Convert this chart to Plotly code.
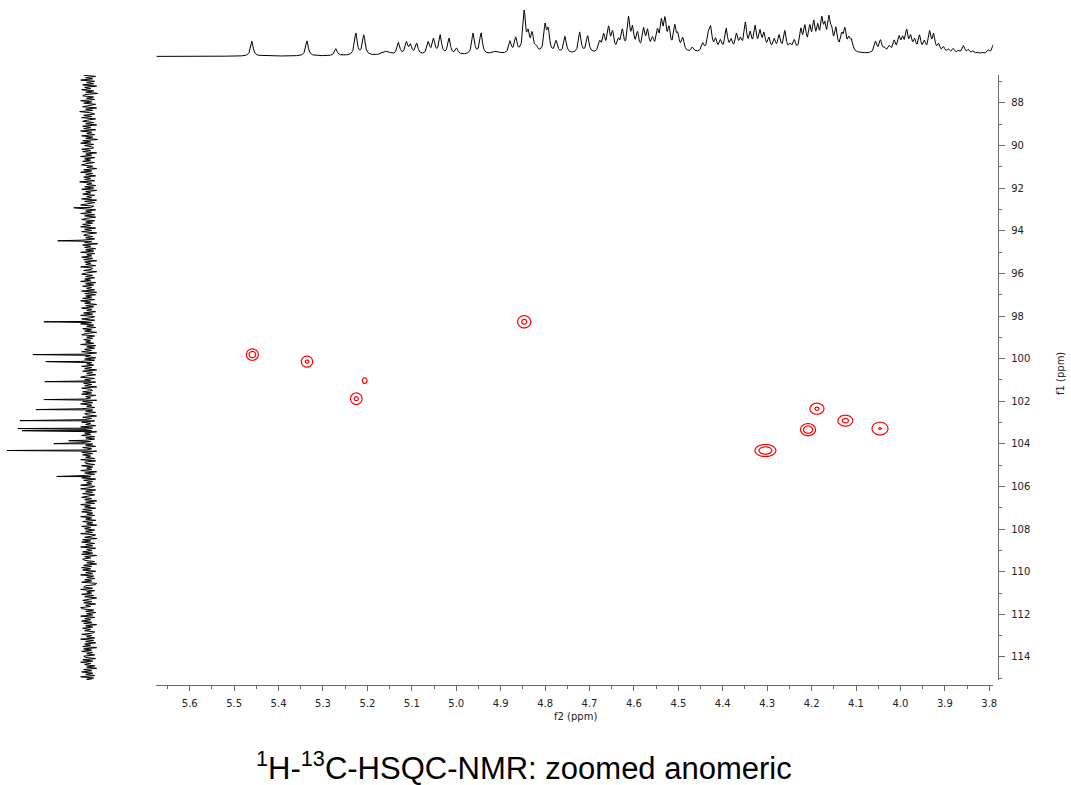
import numpy as np
import plotly.graph_objects as go

W, H = 1071, 785

# ---------------- 1H projection (top): peak list ----------------
h1_ppm = [5.460, 5.336, 5.271, 5.226, 5.208, 5.157, 5.130, 5.112, 5.103, 5.089,
          5.063, 5.051, 5.036, 5.016, 4.999, 4.962, 4.944, 4.910, 4.879, 4.866,
          4.847, 4.838, 4.829, 4.820, 4.800, 4.793, 4.775, 4.755, 4.722, 4.704,
          4.677, 4.668, 4.657, 4.648, 4.635, 4.626, 4.612, 4.603, 4.592, 4.578,
          4.569, 4.558, 4.547, 4.538, 4.530, 4.521, 4.508, 4.501, 4.490, 4.468,
          4.445, 4.432, 4.427, 4.416, 4.405, 4.392, 4.381, 4.369, 4.360, 4.349,
          4.338, 4.327, 4.316, 4.307, 4.296, 4.284, 4.273, 4.260, 4.248, 4.239,
          4.224, 4.215, 4.204, 4.195, 4.186, 4.177, 4.170, 4.161, 4.155, 4.145,
          4.132, 4.125, 4.116, 4.110, 4.056, 4.045, 4.036, 4.025, 4.014, 4.003,
          3.995, 3.986, 3.977, 3.968, 3.957, 3.946, 3.934, 3.925, 3.914, 3.903,
          3.892, 3.881, 3.869, 3.858, 3.847, 3.836, 3.825, 3.814, 3.802, 3.791,
          4.350]
h1_height = [15, 15, 7, 22, 20, 4, 12, 12, 9, 11,
             12, 15, 19, 16, 6, 21, 21, 3, 12, 15,
             41, 17, 18, 5, 26, 21, 12, 17, 21, 17,
             10, 16, 23, 18, 10, 20, 32, 21, 17, 21,
             19, 11, 18, 26, 28, 20, 23, 14, 13, 5,
             8, 16, 20, 11, 10, 22, 10, 16, 10, 27,
             16, 23, 18, 16, 12, 11, 15, 20, 6, 10,
             20, 22, 21, 25, 20, 27, 20, 28, 16, 21,
             14, 20, 11, 10, 11, 12, 4, 6, 11, 14,
             12, 20, 14, 11, 16, 10, 20, 17, 8, 6,
             4, 5, 3, 8, 4, 3, 2, 2, 4, 10,
             3.5]
h1_hwhm = [0.0035] * 110 + [0.6]
h1_hwhm[5] = 0.010
h1_hwhm[17] = 0.010

# ---------------- 13C projection (left) ----------------
c13_ppm = [92.92, 94.47, 98.27, 99.81, 100.14, 101.08, 101.92, 102.39, 102.91,
           103.28, 103.38, 103.85, 103.99, 104.31, 105.53]
c13_height = [15, 31, 45, 56, 43, 44, 45, 53, 69, 71, 67, 20, 35, 82, 32]
c13_noise = [int(v) for v in """
5 -7 3 -4 8 -6 2 -5 6 -8 4 -2 7 -5 3 -9 4 6 -5 2
-6 8 -3 5 -7 2 6 -8 3 -4 9 -2 -6 5 -3 7 -7 1 6 -5
3 -8 6 -2 5 -7 8 -3 2 -6 7 -4 3 -9 6 -2 8 -5 4 -3
-5 7 -2 6 -8 3 -3 8 -6 4 -2 6 -6 3 7 -4 2 -8 5 -3
8 -4 3 -7 5 -2 4 -6 9 -3 2 -7 4 -5 7 -8 3 -2 6 -6
2 -3 7 -8 4 -6 3 8 -5 -2 6 -7 3 -3 8 -6 4 -7 2 7
-6 3 -4 6 -2 8 -7 4 -3 7 -8 2 5 -4 3 -6 7 -3 4 -9
6 -2 4 -7 3 -5 8 -6 2 -3 7 -4 5 -8 4 -2 3 -7 8 -4
-3 5 -8 2 7 -4 3 -6 4 -2 8 -7 3 -5 6 -3 2 -6 7 -8
4 -7 3 -3 6 -6 8 -2 4 -8 3 -5 7 -3 2 -7 5 -4 8 -6
-2 7 -6 4 -3 8 -5 2 -7 6 -3 4 -8 3 7 -6 2 -4 5 -2
3 -5 8 -7 2 -6 4 -3 7 -8 5 -2 3 -7 4 -6 8 -3 2 -5
7 -3 4 -8 6 -4 2 -7 3 8 -6 4 -2 -7 5 -3 4 -8 7 -2
-4 6 -3 7 -7 3 -2 4 -8 6 -4 8 -3 2 -6 7 -4 3 -7 4
2 -8 6 -3 4 -6 7 -2 3 -7 8 -4 5 -3 -8 4 -2 7 -6 3
-6 4 -2 8 -4 3 -7 6 -3 2 -8 7 -4 6 -2 3 -6 8 -7 4
3 -6 7 -4 2 -3 8 -8 4 -6 3 -2 7 -7 5 -4 2 -3 8 -6
-2 8 -7 3 -4 6 -6 2 7 -3 4 -8 3 -6 8 -2 4 -7 6 -3
7 -4 2 -6 8 -3 3 -7 6 -4 2 -8 7 -2 4 -6 3 -4 8 -7
-3 4 -8 6 -2 7 -6 3 -4 8 -7 2 -3 6 -4 7 -8 4 -2 6
4 -6 2 -8 5 -3 7 -2 6 -7 3 -4 8 -5 2 -6 4 -3 7 -8
-7 3 5 -4 8 -6 2 -3 7 -5 4 -8 2 6 -3 5 -7 3 -2 8
6 -5 3 -7 2 -4 8 -6 4 -2 7 -3 5 -8 3 -4 6 -2 4 -6
-4 7 -3 2 -6 8 -5 3 -7 4 -2 6 -8 5 -3 7 -4 2 -6 5
3 -7 6 -4 8 -2 4 -6 2 -8 5 -3 7 -4 3 -6 8 -5 2 -4
""".split()]

# ---------------- HSQC cross peaks ----------------
xp_h = [5.459, 5.336, 5.206, 5.225, 4.847, 4.188, 4.124, 4.208, 4.046, 4.304]
xp_c = [99.81, 100.14, 101.03, 101.88, 98.27, 102.35, 102.91, 103.33, 103.28, 104.31]
xp_amp = [2.7, 2.15, 1.18, 2.2, 2.27, 2.13, 2.3, 3.0, 2.04, 3.0]
xp_sh = [0.0095, 0.0103, 0.009, 0.0103, 0.0116, 0.0128, 0.013, 0.0114, 0.015, 0.0159]
xp_sc = [0.19, 0.21, 0.23, 0.215, 0.225, 0.21, 0.197, 0.19, 0.25, 0.19]

# axis ranges
x_range = [5.675, 3.791]
y_range = [115.08, 86.69]


def px(x):
    return x / W


def py(y):
    return 1 - y / H


fig = go.Figure()

# top 1H trace
grid_h = np.linspace(x_range[1], x_range[0], 3000)
spec_h = np.zeros_like(grid_h)
for p, a, w in zip(h1_ppm, h1_height, h1_hwhm):
    spec_h += a / (1 + ((grid_h - p) / w) ** 2)
fig.add_trace(go.Scatter(x=grid_h, y=spec_h, mode="lines", xaxis="x2", yaxis="y2",
                         line=dict(color="black", width=1), hoverinfo="skip", showlegend=False))

# left 13C trace
grid_c = np.linspace(86.7, 115.1, len(c13_noise))
pts = list(zip(grid_c, c13_noise)) + list(zip(c13_ppm, c13_height))
pts.sort(key=lambda t: t[0])
fig.add_trace(go.Scatter(x=[v for _, v in pts], y=[c for c, _ in pts], mode="lines",
                         xaxis="x3", yaxis="y3", line=dict(color="black", width=1),
                         hoverinfo="skip", showlegend=False))

# HSQC contours
for h, c, a, sh, sc in zip(xp_h, xp_c, xp_amp, xp_sh, xp_sc):
    xs = np.linspace(h - 4.5 * sh, h + 4.5 * sh, 51)
    ys = np.linspace(c - 4.5 * sc, c + 4.5 * sc, 51)
    X, Y = np.meshgrid(xs, ys)
    Z = a * np.exp(-((X - h) ** 2 / (2 * sh ** 2) + (Y - c) ** 2 / (2 * sc ** 2)))
    fig.add_trace(go.Contour(x=xs, y=ys, z=Z, xaxis="x", yaxis="y", autocontour=False,
                             contours=dict(start=1, end=2, size=1, coloring="lines"),
                             colorscale=[[0, "#ff0000"], [1, "#ff0000"]], showscale=False,
                             line=dict(width=1.2), hoverinfo="skip"))

axcol = "#6a6a6a"
tickfont = dict(family="DejaVu Sans", size=10, color="#222")

fig.update_layout(
    width=W, height=H, margin=dict(l=0, r=0, t=0, b=0),
    paper_bgcolor="white", plot_bgcolor="white", showlegend=False,
    xaxis=dict(domain=[px(157), px(997)], range=x_range, anchor="free", position=py(685),
               showline=True, linecolor=axcol, linewidth=1, ticks="outside", ticklen=5,
               tickcolor=axcol, tick0=0, dtick=0.1, tickformat=".1f", tickfont=tickfont,
               ticklabelstandoff=4,
               minor=dict(ticks="outside", ticklen=3, dtick=0.05, tickcolor=axcol),
               showgrid=False, zeroline=False),
    yaxis=dict(domain=[py(680), py(75)], range=y_range, anchor="free", position=px(1002),
               side="right", showline=True, linecolor=axcol, linewidth=1, ticks="outside",
               ticklen=6, tickcolor=axcol, tick0=0, dtick=2, tickfont=tickfont,
               ticklabelstandoff=4,
               minor=dict(ticks="outside", ticklen=3, dtick=1, tickcolor=axcol),
               showgrid=False, zeroline=False),
    xaxis2=dict(domain=[px(157), px(997)], range=x_range, anchor="y2", visible=False),
    yaxis2=dict(domain=[py(57), py(10)], range=[0, 47], anchor="x2", visible=False),
    xaxis3=dict(domain=[px(0), px(100)], range=[89, -11], anchor="y3", visible=False),
    yaxis3=dict(domain=[py(680), py(75)], range=y_range, anchor="x3", visible=False),
    annotations=[
        dict(text="f2 (ppm)", x=px(578), y=py(716), xref="paper", yref="paper",
             xanchor="center", yanchor="middle", showarrow=False,
             font=dict(family="DejaVu Sans", size=10, color="#222")),
        dict(text="f1 (ppm)", x=px(1064), y=py(374), xref="paper", yref="paper",
             xanchor="center", yanchor="middle", showarrow=False, textangle=-90,
             font=dict(family="DejaVu Sans", size=10, color="#222")),
        dict(text="<sup>1</sup>H-<sup>13</sup>C-HSQC-NMR: zoomed anomeric",
             x=px(526), y=py(766), xref="paper", yref="paper",
             xanchor="center", yanchor="middle", showarrow=False,
             font=dict(family="Liberation Sans", size=31, color="black")),
    ],
)

fig.write_html("out.html", config={"displayModeBar": False},
               post_script="document.body.style.margin='0';")
